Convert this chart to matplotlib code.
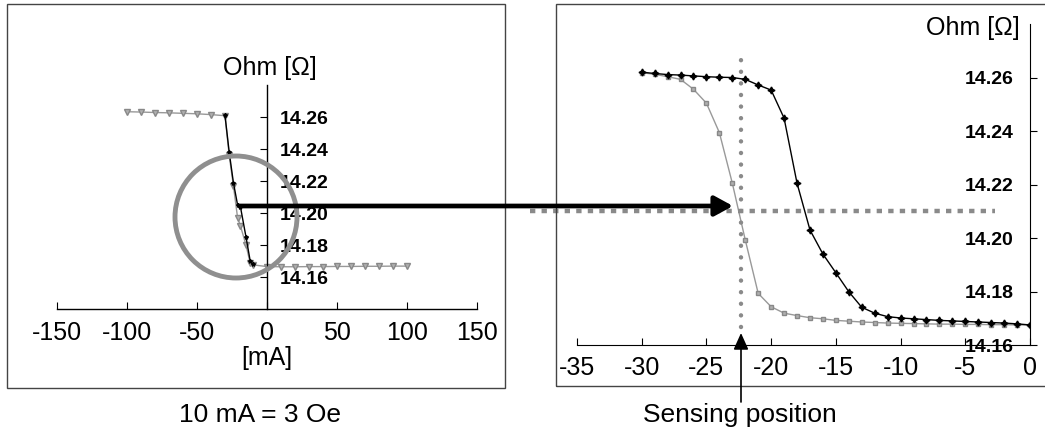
import matplotlib
matplotlib.use("Agg")
import matplotlib.pyplot as plt
from matplotlib.patches import Rectangle, Ellipse, FancyArrowPatch

plt.rcParams["font.family"] = ["Liberation Sans", "DejaVu Sans"]
plt.rcParams["axes.unicode_minus"] = False

# full sweep, left panel (mA, Ohm)
left_ma = [-100, -90, -80, -70, -60, -50, -40, -30, -27, -24, -21, -19, -15, -12, -10,
           0, 10, 20, 30, 40, 50, 60, 70, 80, 90, 100]
left_gray_ohm = [14.2633, 14.2631, 14.2628, 14.2626, 14.2623, 14.2620, 14.2615, 14.2608,
                 14.2360, 14.2170, 14.1970, 14.1920, 14.1800, 14.1686, 14.1676,
                 14.1665, 14.1664, 14.1664, 14.1665, 14.1665, 14.1666, 14.1666, 14.1667,
                 14.1667, 14.1668, 14.1668]
left_dark_ma = [-30, -27, -24, -21, -19, -15, -12, -10]
left_dark_ohm = [14.2610, 14.2380, 14.2190, 14.2050, 14.2040, 14.1850, 14.1700, 14.1680]

# zoomed part, right panel
right_ma = [-30, -29, -28, -27, -26, -25, -24, -23, -22, -21, -20, -19, -18, -17, -16, -15,
            -14, -13, -12, -11, -10, -9, -8, -7, -6, -5, -4, -3, -2, -1, 0]
right_dark_ohm = [14.2620, 14.2615, 14.2611, 14.2609, 14.2606, 14.2603, 14.2601, 14.2600,
                  14.2593, 14.2572, 14.2553, 14.2448, 14.2205, 14.2030, 14.1940, 14.1870,
                  14.1799, 14.1741, 14.1719, 14.1706, 14.1701, 14.1698, 14.1695, 14.1692,
                  14.1690, 14.1688, 14.1686, 14.1684, 14.1682, 14.1679, 14.1675]
right_gray_ohm = [14.2618, 14.2612, 14.2603, 14.2593, 14.2556, 14.2504, 14.2394, 14.2205,
                  14.1993, 14.1793, 14.1743, 14.1719, 14.1710, 14.1702, 14.1698, 14.1692,
                  14.1689, 14.1686, 14.1684, 14.1682, 14.1681, 14.1680, 14.1679, 14.1678,
                  14.1678, 14.1677, 14.1677, 14.1676, 14.1676, 14.1675, 14.1675]

sense_ma = -22.35
sense_ohm = 14.21

left_xticks = [-150, -100, -50, 0, 50, 100, 150]
right_xticks = [-35, -30, -25, -20, -15, -10, -5, 0]
left_yticks = [14.16, 14.18, 14.20, 14.22, 14.24, 14.26]
right_yticks = [14.16, 14.18, 14.20, 14.22, 14.24, 14.26]

W, H = 1045, 432
GRAY = "#999999"


def fx(x):
    return x / W


def fy(y):
    return 1 - y / H


fig = plt.figure(figsize=(W / 100, H / 100), dpi=100)

# ---- left panel
ax1 = fig.add_axes([fx(57), fy(309), 420 / W, 224 / H])
ax1.plot(left_ma, left_gray_ohm, color=GRAY, lw=1, marker="v", ms=4,
         mfc="#b0b0b0", mec="#888888", zorder=2)
ax1.plot(left_dark_ma, left_dark_ohm, color="black", lw=1, marker="*", ms=3, zorder=3)
ax1.set_xlim(-150, 150)
ax1.set_ylim(14.14, 14.28)
ax1.spines["top"].set_visible(False)
ax1.spines["left"].set_visible(False)
ax1.spines["right"].set_position(("data", 0))
ax1.yaxis.tick_right()
ax1.set_xticks(left_xticks)
ax1.set_xticklabels([str(v) for v in left_xticks])
ax1.set_yticks(left_yticks)
ax1.set_yticklabels(["%.2f" % v for v in left_yticks], fontweight="bold")
ax1.tick_params(axis="x", direction="in", length=5, pad=9, labelsize=18)
ax1.tick_params(axis="y", direction="in", length=5, pad=9, labelsize=14)
for s in ax1.spines.values():
    s.set_linewidth(1)

# ---- right panel
ax2 = fig.add_axes([fx(577), fy(345), 453 / W, 321 / H])
ax2.plot(right_ma, right_gray_ohm, color=GRAY, lw=1, marker="s", ms=3.5,
         mfc="#b0b0b0", mec="#888888", zorder=2)
ax2.plot(right_ma, right_dark_ohm, color="black", lw=1, marker=(4, 1, 0), ms=5, zorder=3)
ax2.plot([-38.65, -2.7], [sense_ohm, sense_ohm], color="#8a8a8a", lw=3.2,
         ls=(0, (1.2, 1.4)), clip_on=False, zorder=4)
ax2.plot([sense_ma, sense_ma], [14.1668, 14.2697], color="#8a8a8a", lw=3.2,
         ls=(0, (0.01, 2.6)), dash_capstyle="round", clip_on=False, zorder=4)
ax2.set_xlim(-35, 0)
ax2.set_ylim(14.16, 14.28)
ax2.spines["top"].set_visible(False)
ax2.spines["right"].set_visible(False)
ax2.spines["left"].set_position(("data", 0))
ax2.set_xticks(right_xticks)
ax2.set_xticklabels([str(v) for v in right_xticks])
ax2.set_yticks(right_yticks)
ax2.set_yticklabels(["%.2f" % v for v in right_yticks], fontweight="bold")
ax2.tick_params(axis="x", direction="in", length=5, pad=8, labelsize=18)
ax2.tick_params(axis="y", direction="in", length=5, pad=12, labelsize=14)

# ---- labels
fig.text(fx(270), fy(68), "Ohm [Ω]", ha="center", va="center", fontsize=18)
fig.text(fx(1020), fy(28), "Ohm [Ω]", ha="right", va="center", fontsize=18)
fig.text(fx(267), fy(358), "[mA]", ha="center", va="center", fontsize=18)
fig.text(fx(260), fy(415), "10 mA = 3 Oe", ha="center", va="center", fontsize=19)
fig.text(fx(740), fy(415), "Sensing position", ha="center", va="center", fontsize=19)

# ---- frames, circle and arrows
fig.add_artist(Rectangle((fx(7), fy(388)), 498 / W, 384 / H, transform=fig.transFigure,
                         fill=False, ec="#444444", lw=1))
fig.add_artist(Rectangle((fx(556), fy(386)), 500 / W, 382 / H, transform=fig.transFigure,
                         fill=False, ec="#444444", lw=1))
fig.add_artist(Ellipse((fx(236), fy(217)), 122 / W, 122 / H, transform=fig.transFigure,
                       fill=False, ec="#8f8f8f", lw=3.5, zorder=5))
fig.add_artist(FancyArrowPatch((fx(240), fy(206)), (fx(733), fy(206)),
                               transform=fig.transFigure,
                               arrowstyle="-|>,head_length=11,head_width=6",
                               mutation_scale=1, lw=3.4, color="black",
                               shrinkA=0, shrinkB=0, zorder=6))
fig.add_artist(FancyArrowPatch((fx(741), fy(402)), (fx(741), fy(333)),
                               transform=fig.transFigure,
                               arrowstyle="-|>,head_length=10,head_width=4.5",
                               mutation_scale=1, lw=1.2, color="black",
                               shrinkA=0, shrinkB=0, zorder=6))

fig.savefig("out.png", dpi=100)
